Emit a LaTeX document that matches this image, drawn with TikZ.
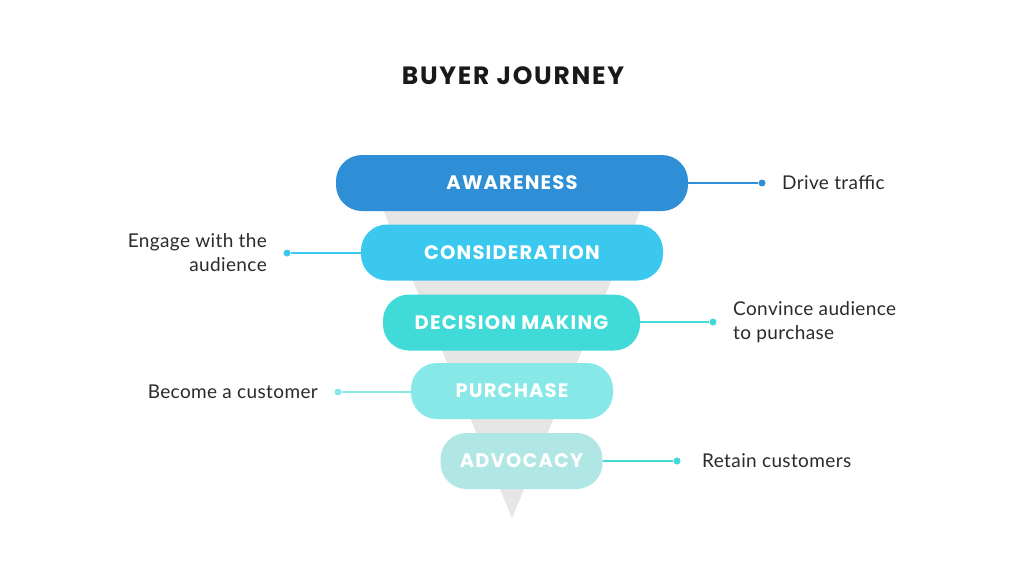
\documentclass[tikz,border=0pt]{standalone}
\usepackage{fontspec}
\setmainfont{Poppins}
\newfontfamily\titlefont{Poppins}[LetterSpace=7]
\newfontfamily\barfont{Poppins}[LetterSpace=6]
\newfontfamily\bodyfont{Lato}[LetterSpace=2]
\definecolor{cA}{HTML}{2E8FD6}
\definecolor{cB}{HTML}{3BC8EF}
\definecolor{cC}{HTML}{40DAD8}
\definecolor{cD}{HTML}{88E8E8}
\definecolor{cE}{HTML}{B0E6E4}
\definecolor{funnelgray}{HTML}{E6E6E6}
\definecolor{txtgray}{HTML}{2B2B2B}
\tikzset{
  bar/.style={rectangle, rounded corners=26pt, minimum height=56pt, inner sep=0pt, text=white,
    font=\barfont\bfseries\fontsize{19.5}{22}\selectfont},
  dotn/.style={circle, inner sep=0pt, minimum size=7pt},
  lbl/.style={font=\bodyfont\fontsize{19}{24}\selectfont, text=txtgray, inner sep=0pt},
  conn/.style={line width=1.2pt}
}
\begin{document}
\begin{tikzpicture}[x=1pt,y=-1pt]
\useasboundingbox[fill=white] (0,0) rectangle (1024,576);
% funnel
\fill[funnelgray] (372,183) -- (652,183) -- (512,518) -- cycle;
% title
\node[font=\titlefont\bfseries\fontsize{25}{28}\selectfont, text=black!90] (title) at (513,76) {BUYER JOURNEY};
% bars
\node[bar, fill=cA, minimum width=352pt] (aw) at (512,183) {AWARENESS};
\node[bar, fill=cB, minimum width=302pt] (co) at (512,252.5) {CONSIDERATION};
\node[bar, fill=cC, minimum width=257pt] (dm) at (511.5,322.5) {DECISION MAKING};
\node[bar, fill=cD, minimum width=202pt] (pu) at (512,391) {PURCHASE};
\node[bar, fill=cE, minimum width=162pt] (ad) at (521.5,461) {ADVOCACY};
% dots
\node[dotn, fill=cA] (d1) at (762,183) {};
\node[dotn, fill=cB] (d2) at (287,253) {};
\node[dotn, fill=cC] (d3) at (713,322) {};
\node[dotn, fill=cD] (d4) at (338,392) {};
\node[dotn, fill=cC] (d5) at (677,461) {};
% connectors
\draw[conn, cA] (aw.east |- d1) -- (d1);
\draw[conn, cB] (co.west |- d2) -- (d2);
\draw[conn, cC] (dm.east |- d3) -- (d3);
\draw[conn, cD] (pu.west |- d4) -- (d4);
\draw[conn, cC] (ad.east |- d5) -- (d5);
% labels
\node[lbl, anchor=west] (t1) at (782,183) {Drive traffic};
\node[lbl, anchor=east, align=right] (t2) at (267,253) {Engage with the\\audience};
\node[lbl, anchor=west, align=left] (t3) at (733,322) {Convince audience\\to purchase};
\node[lbl, anchor=east] (t4) at (318,392) {Become a customer};
\node[lbl, anchor=west] (t5) at (702,461) {Retain customers};
\end{tikzpicture}
\end{document}
